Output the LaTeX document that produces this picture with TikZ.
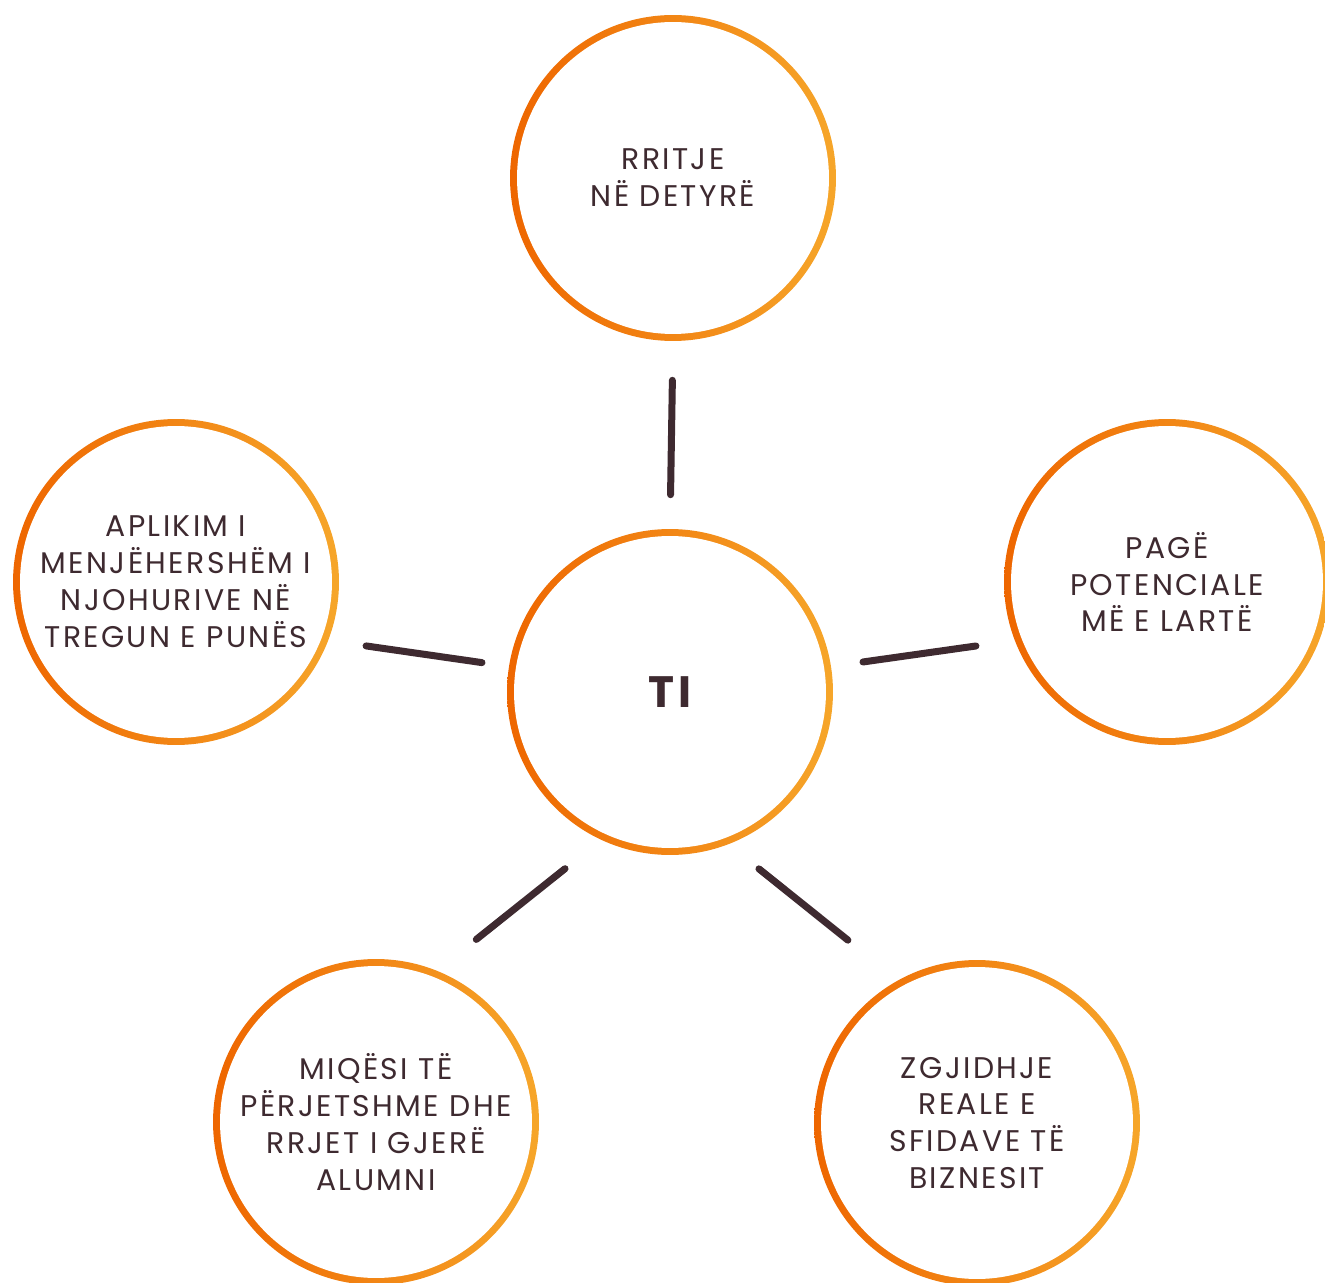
\documentclass[tikz,border=0pt]{standalone}
\usepackage{fontspec}
\setmainfont{Poppins}[LetterSpace=8]
\definecolor{ink}{HTML}{3E2A30}
\definecolor{ringL}{HTML}{EE6600}
\definecolor{ringM}{HTML}{F28A00}
\definecolor{ringR}{HTML}{F6A62A}
\begin{document}
\begin{tikzpicture}[x=0.02cm,y=-0.02cm]
	\tikzset{ring/.style = {shape=circle,minimum size=6.52cm,inner sep=0pt,
		left color=ringL,middle color=ringM,right color=ringR,
		path picture={\fill[white] (path picture bounding box.center) circle (3.12cm);},
		text=ink,align=center,font=\fontsize{17}{21}\selectfont}}
	\tikzset{link/.style = {draw=ink,line width=0.14cm,line cap=round}}
	\useasboundingbox (0,0) rectangle (1325,1283);
	\node[ring] (ti) at (670,692) {\fontsize{25}{30}\selectfont\bfseries TI};
	\node[ring] (top) at (673,178) {RRITJE\\NË DETYRË};
	\node[ring] (left) at (176,582) {APLIKIM I\\MENJËHERSHËM I\\NJOHURIVE NË\\TREGUN E PUNËS};
	\node[ring] (right) at (1167,582) {PAGË\\POTENCIALE\\MË E LARTË};
	\node[ring] (bl) at (376,1122) {MIQËSI TË\\PËRJETSHME DHE\\RRJET I GJERË\\ALUMNI};
	\node[ring] (br) at (977,1123) {ZGJIDHJE\\REALE E\\SFIDAVE TË\\BIZNESIT};
	\path[link,shorten <=0.68cm,shorten >=0.78cm] (ti.north) -- (top.south);
	\path[link,shorten <=0.54cm,shorten >=0.76cm] (ti.171) -- (left.-21);
	\path[link,shorten <=0.64cm,shorten >=0.78cm] (ti.9) -- (right.201);
	\path[link,shorten <=0.92cm,shorten >=1.0cm] (ti.245) -- (bl.68);
	\path[link,shorten <=0.78cm,shorten >=1.28cm] (ti.291) -- (br.119);
\end{tikzpicture}
\end{document}
